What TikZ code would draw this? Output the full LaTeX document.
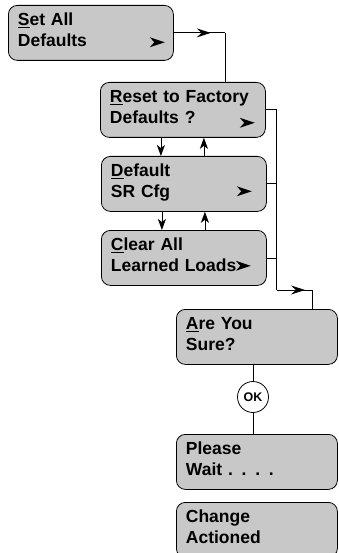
\documentclass[tikz,border=0pt]{standalone}
\usepackage{fontspec}
\setmainfont{Liberation Sans}
\usetikzlibrary{arrows.meta,decorations.markings}
\definecolor{boxgray}{RGB}{200,200,200}
\tikzset{
  menubox/.style={draw, fill=boxgray, rounded corners=9pt, anchor=north west,
    align=left, text width=#1, inner xsep=9.5pt, inner ysep=0pt,
    text height=20pt, text depth=35pt,
    font=\bfseries\fontsize{17.5}{21.5}\selectfont},
  menubox/.default=146pt,
  nextmark/.pic={\fill (0,0) -- (-15,-5) -- (-10.5,0) -- (-15,5) -- cycle;},
  flowtip/.style={-{Stealth[length=11pt,width=8pt,inset=3pt]}},
  markarrow/.style={postaction={decorate}, decoration={markings,
    mark=at position #1 with {\arrow{Stealth[length=14pt,width=9pt,inset=5pt]}}}}
}
\begin{document}
\begin{tikzpicture}[x=1pt,y=-1pt,line width=0.8pt]
		\useasboundingbox (0,0) rectangle (338,553);
		\clip (0,0) rectangle (338,553);
		
		% 菜单框 (左列)
		\node[menubox] (setall) at (8,5) {\underline{S}et All\\Defaults};
		\node[menubox] (reset) at (100,82) {\underline{R}eset to Factory\\Defaults ?};
		\node[menubox] (srcfg) at (101,156) {\underline{D}efault\\SR Cfg};
		\node[menubox] (clear) at (101,230) {\underline{C}lear All\\Learned Loads};
		
		% 右列 (确认)
		\node[menubox=142pt] (sure) at (176,309) {\underline{A}re You\\Sure?};
		\node[draw, circle, minimum size=31pt, inner sep=0pt, fill=white,
		  font=\bfseries\fontsize{12.5}{14}\selectfont] (ok) at (253,397) {OK};
		\node[menubox=142pt] (wait) at (176,434) {Please\\Wait . . . .};
		\node[menubox=142pt] (done) at (176,502) {Change\\Actioned};
		
		% 框内的 > 记号
		\pic at ([shift={(-9,-18.5)}]setall.south east) {nextmark};
		\pic at ([shift={(-11,-15)}]reset.south east) {nextmark};
		\pic at ([shift={(-15,-20.5)}]srcfg.south east) {nextmark};
		\pic at ([shift={(-16,-20)}]clear.south east) {nextmark};
		
		% Set All -> Reset
		\coordinate (j1) at (225,0 |- setall.east);
		\draw[markarrow=0.72] (setall.east) -- (j1);
		\draw (j1) -- (j1 |- reset.north);
		
		% 上下箭头
		\draw[flowtip] ([xshift=-22]reset.south) -- ([xshift=-22]reset.south |- srcfg.north);
		\draw[flowtip] ([xshift=21]reset.south |- srcfg.north) -- ([xshift=21]reset.south);
		\draw[flowtip] ([xshift=-22]srcfg.south) -- ([xshift=-22]srcfg.south |- clear.north);
		\draw[flowtip] ([xshift=21]srcfg.south |- clear.north) -- ([xshift=21]srcfg.south);
		
		% 右侧汇总线
		\coordinate (bustop) at ([xshift=11]reset.east);
		\coordinate (busbot) at (bustop |- 0,290);
		\draw (reset.east) -- (bustop) -- (busbot);
		\draw (srcfg.east) -- (srcfg.east -| bustop);
		\draw (clear.east) -- (clear.east -| bustop);
		\coordinate (j2) at (312,290);
		\draw[markarrow=0.8] (busbot) -- (j2);
		\draw (j2) -- (j2 |- sure.north);
		
		% OK 按钮
		\draw (ok.north |- sure.south) -- (ok.north);
		\draw (ok.south) -- (ok.south |- wait.north);
	
	\end{tikzpicture}
\end{document}
